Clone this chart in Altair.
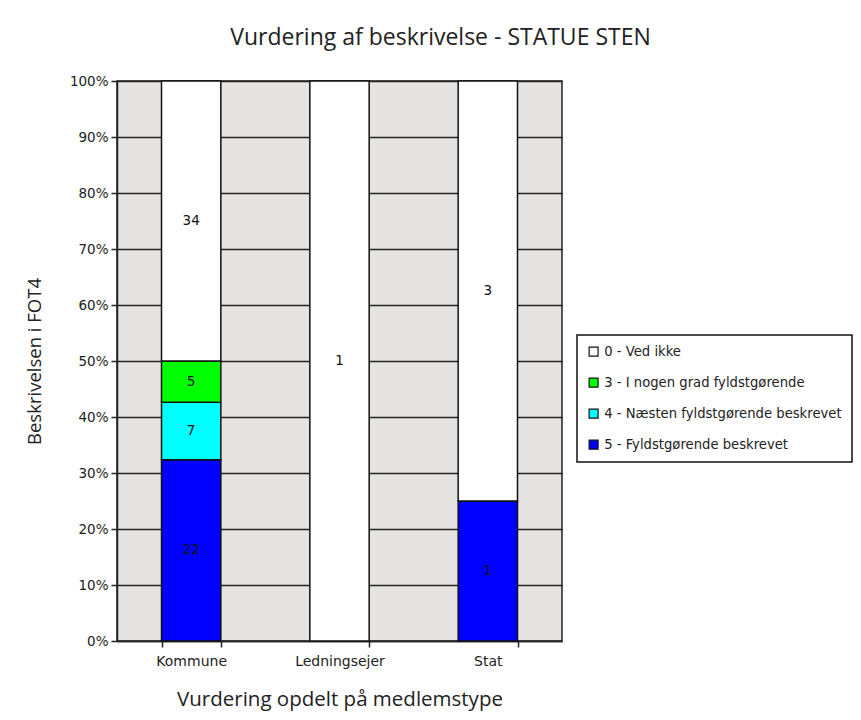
import altair as alt
import pandas as pd

categories = ["Kommune", "Ledningsejer", "Stat"]
ratings = ["0 - Ved ikke", "3 - I nogen grad fyldstgørende",
           "4 - Næsten fyldstgørende beskrevet", "5 - Fyldstgørende beskrevet"]
colors = ["#FFFFFF", "#00FF00", "#00FFFF", "#0000FF"]
# counts per category, in rating order (0, 3, 4, 5)
counts = {
    "Kommune": [34, 5, 7, 22],
    "Ledningsejer": [1, 0, 0, 0],
    "Stat": [3, 0, 0, 1],
}
y_ticks = [i / 10 for i in range(11)]

rows = []
for cat in categories:
    vals = counts[cat]
    total = sum(vals)
    start = 0.0
    # stack from bottom: 5, 4, 3, 0
    for idx in [3, 2, 1, 0]:
        v = vals[idx]
        if v == 0:
            continue
        frac = v / total
        rows.append({"cat": cat, "rating": ratings[idx], "n": v,
                     "y0": start, "y1": start + frac, "mid": start + frac / 2})
        start += frac
df = pd.DataFrame(rows)

FONT = "DejaVu Sans"

x = alt.X("cat:N", sort=categories,
          scale=alt.Scale(paddingInner=0.6, paddingOuter=0.3),
          axis=alt.Axis(title="Vurdering opdelt på medlemstype", labelAngle=0,
                        tickBand="extent", grid=False, labelFont=FONT,
                        labelFontSize=14, labelColor="#222", labelPadding=7,
                        tickColor="#222", tickSize=6, tickWidth=1.5,
                        domainColor="#222", domainWidth=1.5,
                        titleFont="Open Sans", titleFontSize=20.5,
                        titleFontWeight="normal", titleColor="#222",
                        titlePadding=21))

bars = alt.Chart(df).mark_bar(stroke="#111", strokeWidth=1.5).encode(
    x=x,
    y=alt.Y("y0:Q", scale=alt.Scale(domain=[0, 1]),
            axis=alt.Axis(title="Beskrivelsen i FOT4", format=".0%",
                          values=y_ticks, grid=True, gridColor="#222",
                          gridWidth=1.5, gridOpacity=1, labelFont=FONT,
                          labelFontSize=13.5, labelColor="#222",
                          tickColor="#222", tickSize=6, tickWidth=1.5,
                          domainColor="#222", domainWidth=1.5, labelPadding=3,
                          titleFont="Open Sans", titleFontSize=18.5,
                          titleFontWeight="normal", titleColor="#222",
                          titlePadding=25)),
    y2="y1:Q",
    color=alt.Color("rating:N",
                    scale=alt.Scale(domain=ratings, range=colors),
                    legend=alt.Legend(title=None, orient="none", legendX=460,
                                      legendY=254, symbolType="square",
                                      symbolSize=80, symbolStrokeColor="#111",
                                      symbolStrokeWidth=1.2,
                                      labelFont=FONT, labelFontSize=13.2,
                                      labelColor="#222", rowPadding=16,
                                      padding=10, strokeColor="#111",
                                      fillColor="#FFFFFF", labelLimit=400)),
)

labels = alt.Chart(df).mark_text(font=FONT, fontSize=13.5, color="#111").encode(
    x=alt.X("cat:N", sort=categories),
    y=alt.Y("mid:Q"),
    text="n:Q",
)

chart = alt.layer(bars, labels).properties(
    width=445, height=560,
    title=alt.TitleParams("Vurdering af beskrivelse - STATUE STEN",
                          font="Open Sans", fontSize=23, fontWeight="normal",
                          color="#222", anchor="middle", dx=101, offset=24),
    autosize=alt.AutoSizeParams(type="none"),
    padding={"left": 109, "top": 73, "right": 291, "bottom": 79},
).configure_view(fill="#E6E3E3", stroke="#222", strokeWidth=1.5
).configure_legend(strokeWidth=1.5)

chart.save("out.html", embed_options={"renderer": "svg", "actions": False})
